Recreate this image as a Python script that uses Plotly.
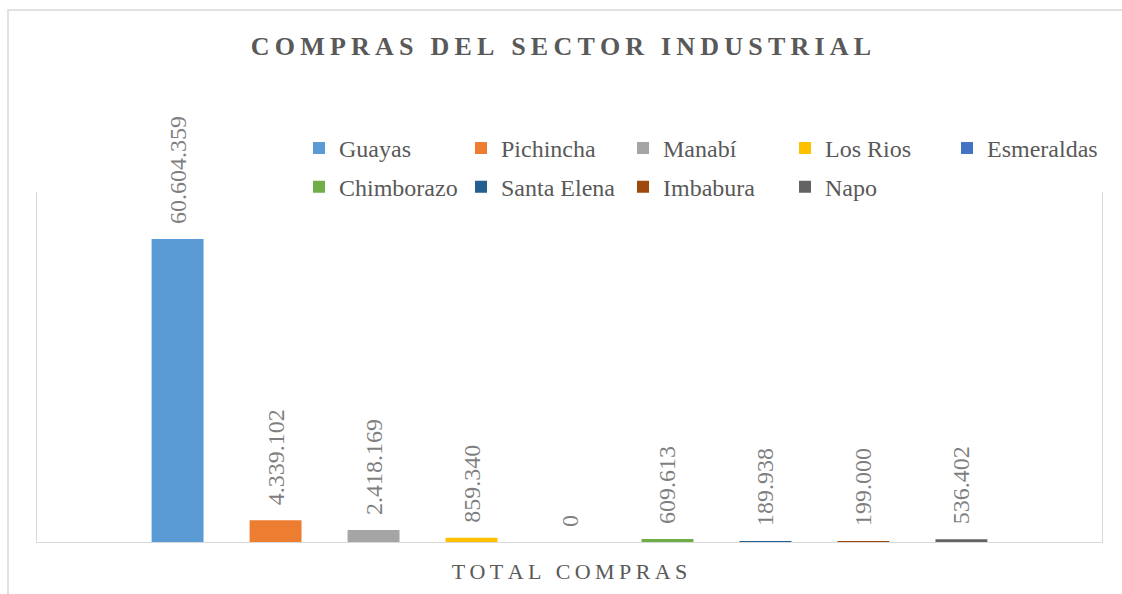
import plotly.graph_objects as go

# Compras del sector industrial por provincia
categoria = ["TOTAL COMPRAS"]
provincias = ["Guayas", "Pichincha", "Manabí", "Los Rios", "Esmeraldas",
              "Chimborazo", "Santa Elena", "Imbabura", "Napo"]
compras = [60604359, 4339102, 2418169, 859340, 0, 609613, 189938, 199000, 536402]
colores = ["#5B9BD5", "#ED7D31", "#A5A5A5", "#FFC000", "#4472C4",
           "#70AD47", "#255E91", "#9E480E", "#636363"]

titulo = "COMPRAS DEL SECTOR INDUSTRIAL"


def espaciar(texto):
    # Excel-like letter spacing using thin spaces
    return "\u2009".join(texto)


SERIF = "Liberation Serif, Times New Roman, serif"

fig = go.Figure()
for i, (nombre, valor, color) in enumerate(zip(provincias, compras, colores)):
    fig.add_trace(go.Bar(
        x=categoria, y=[valor], name=nombre,
        legend="legend" if i < 5 else "legend2",  # two legend rows like Excel
        marker=dict(color=color, line=dict(width=0)),
        texttemplate="\u00a0\u00a0%{y:,d}",
        textposition="outside",
        textangle=-90,
        constraintext="none",
        cliponaxis=False,
        textfont=dict(family=SERIF, size=24, color="#7F7F7F"),
        hoverinfo="skip",
    ))

leyenda = dict(orientation="h", xref="container", yref="container",
               x=0.2665, xanchor="left", yanchor="top",
               entrywidth=117, font=dict(family=SERIF, size=24, color="#595959"),
               bgcolor="rgba(0,0,0,0)", traceorder="normal")

fig.update_layout(
    width=1122, height=594,
    paper_bgcolor="white", plot_bgcolor="white",
    separators=",.",
    barmode="group", bargap=0.172, bargroupgap=0.47,
    margin=dict(l=37, r=20, t=192, b=52, autoexpand=False),
    title=dict(text=espaciar(titulo), x=0.5, xanchor="center",
               y=0.923, yanchor="middle",
               font=dict(family=SERIF, size=26, color="#595959", weight="bold")),
    legend=dict(leyenda, y=0.788),
    legend2=dict(leyenda, y=0.7227),
    showlegend=True,
    xaxis=dict(showline=True, linecolor="#D9D9D9", linewidth=1,
               ticks="", tickvals=categoria, ticktext=[espaciar(c) for c in categoria],
               tickfont=dict(family=SERIF, size=22, color="#595959"),
               ticklabelstandoff=10, showgrid=False, zeroline=False),
    yaxis=dict(range=[0, 70000000], showticklabels=False, showgrid=False,
               zeroline=False, showline=True, mirror=True,
               linecolor="#D9D9D9", linewidth=1, ticks=""),
    shapes=[dict(type="rect", xref="paper", yref="paper",
                 xsizemode="pixel", ysizemode="pixel", xanchor=0, yanchor=1,
                 x0=-29, x1=1300, y0=-1000, y1=182,
                 line=dict(color="#D9D9D9", width=1.5), layer="below")],
)

fig.write_html("out.html", config={"displayModeBar": False},
               post_script="document.body.style.margin='0';")
